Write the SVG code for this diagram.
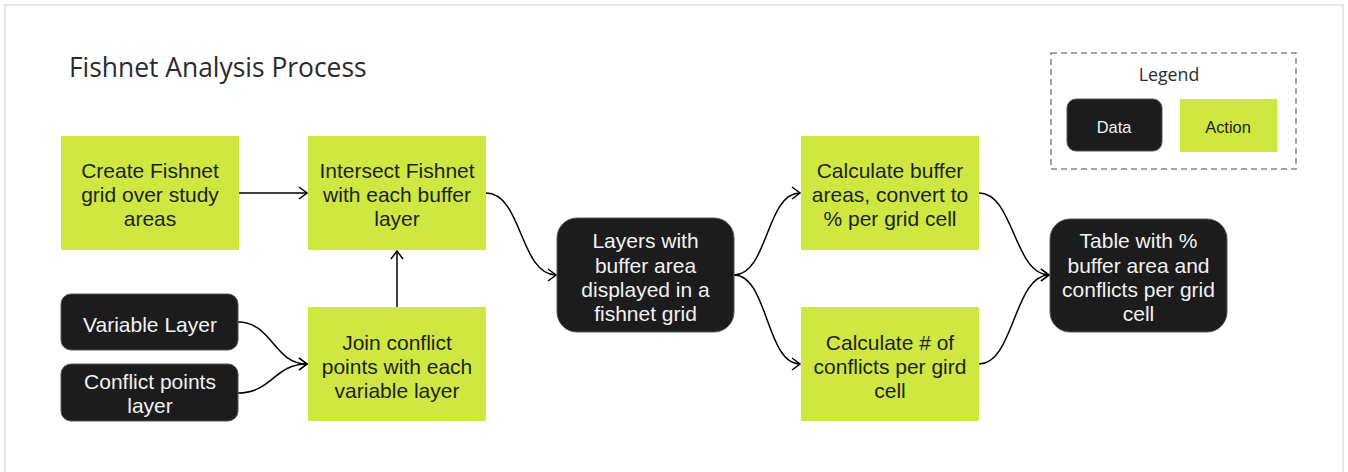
<svg xmlns="http://www.w3.org/2000/svg" width="1348" height="472" viewBox="0 0 1348 472">
  <style>
    .action { fill: #cfe741; }
    .data { fill: #1c1c1c; stroke: #555; stroke-width: 1; }
    .t { font-family: "Liberation Sans", Arial, sans-serif; font-size: 21px; text-anchor: middle; }
    .dark { fill: #1f1f1f; }
    .light { fill: #f2f2f2; }
    .edge { fill: none; stroke: #000; stroke-width: 1.5; marker-end: url(#arrow); }
  </style>
  <defs>
    <marker id="arrow" markerUnits="userSpaceOnUse" markerWidth="12" markerHeight="16" refX="9" refY="7" orient="auto">
      <path d="M1,1 L9,7 L1,13" fill="none" stroke="#000" stroke-width="1.5"/>
    </marker>
  </defs>

  <rect x="0" y="0" width="1348" height="472" fill="#ffffff"/>
  <rect x="5" y="5" width="1338" height="480" fill="#ffffff" stroke="#e6e6e6" stroke-width="2"/>

  <text x="69" y="77" font-family="'Open Sans', sans-serif" font-size="26.4" fill="#2b2b2b">Fishnet Analysis Process</text>

  <!-- legend -->
  <g id="legend">
    <rect x="1051" y="53" width="245" height="116" fill="none" stroke="#888" stroke-width="1.5" stroke-dasharray="6,4"/>
    <text x="1169" y="81" font-family="'Open Sans', sans-serif" font-size="17.8" fill="#2b2b2b" text-anchor="middle">Legend</text>
    <rect class="data" x="1067" y="99" width="95" height="52" rx="9"/>
    <text x="1114" y="133" font-family="'Liberation Sans', Arial, sans-serif" font-size="16.4" fill="#f2f2f2" text-anchor="middle">Data</text>
    <rect class="action" x="1180" y="99" width="97" height="53"/>
    <text x="1228" y="133" font-family="'Liberation Sans', Arial, sans-serif" font-size="16.4" fill="#1f1f1f" text-anchor="middle">Action</text>
  </g>

  <!-- connectors -->
  <g id="connectors">
    <path class="edge" d="M239,193 L307,193"/>
    <path class="edge" d="M397,307 L397,251"/>
    <path class="edge" d="M238,322 C272,322 274,364 307,364"/>
    <path class="edge" d="M238,393 C272,393 274,364 307,364"/>
    <path class="edge" d="M486,193 C522,193 520,275 556,275"/>
    <path class="edge" d="M734,275 C768,275 766,193 800,193"/>
    <path class="edge" d="M734,275 C768,275 766,364 800,364"/>
    <path class="edge" d="M979,193 C1014,193 1014,275 1049,275"/>
    <path class="edge" d="M979,364 C1014,364 1014,275 1049,275"/>
  </g>

  <g id="create-fishnet">
    <rect class="action" x="61" y="136" width="178" height="114"/>
    <text class="t dark" x="150" y="178">Create Fishnet</text>
    <text class="t dark" x="150" y="202">grid over study</text>
    <text class="t dark" x="150" y="226">areas</text>
  </g>

  <g id="intersect-fishnet">
    <rect class="action" x="308" y="136" width="178" height="114"/>
    <text class="t dark" x="397" y="178">Intersect Fishnet</text>
    <text class="t dark" x="397" y="202">with each buffer</text>
    <text class="t dark" x="397" y="226">layer</text>
  </g>

  <g id="variable-layer">
    <rect class="data" x="61" y="294" width="177" height="56" rx="10"/>
    <text class="t light" x="150" y="332">Variable Layer</text>
  </g>

  <g id="conflict-points">
    <rect class="data" x="61" y="364" width="177" height="57" rx="10"/>
    <text class="t light" x="150" y="389">Conflict points</text>
    <text class="t light" x="150" y="413">layer</text>
  </g>

  <g id="join-conflict">
    <rect class="action" x="308" y="307" width="178" height="114"/>
    <text class="t dark" x="397" y="350">Join conflict</text>
    <text class="t dark" x="397" y="374">points with each</text>
    <text class="t dark" x="397" y="398">variable layer</text>
  </g>

  <g id="buffer-layers">
    <rect class="data" x="557" y="218" width="177" height="114" rx="20"/>
    <text class="t light" x="645.500" y="248">Layers with</text>
    <text class="t light" x="645.500" y="273">buffer area</text>
    <text class="t light" x="645.500" y="297">displayed in a</text>
    <text class="t light" x="645.500" y="321">fishnet grid</text>
  </g>

  <g id="calc-buffer">
    <rect class="action" x="801" y="136" width="178" height="114"/>
    <text class="t dark" x="890" y="178">Calculate buffer</text>
    <text class="t dark" x="890" y="202">areas, convert to</text>
    <text class="t dark" x="890" y="226">% per grid cell</text>
  </g>

  <g id="calc-conflicts">
    <rect class="action" x="801" y="307" width="178" height="114"/>
    <text class="t dark" x="890" y="350">Calculate # of</text>
    <text class="t dark" x="890" y="374">conflicts per gird</text>
    <text class="t dark" x="890" y="398">cell</text>
  </g>

  <g id="result-table">
    <rect class="data" x="1050" y="219" width="177" height="113" rx="20"/>
    <text class="t light" x="1138.500" y="248">Table with %</text>
    <text class="t light" x="1138.500" y="273">buffer area and</text>
    <text class="t light" x="1138.500" y="297">conflicts per grid</text>
    <text class="t light" x="1138.500" y="321">cell</text>
  </g>
</svg>
